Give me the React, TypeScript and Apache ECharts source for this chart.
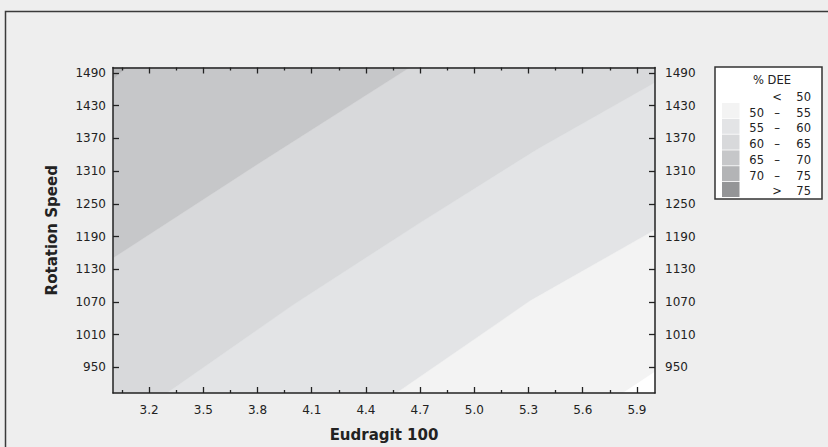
import React, { useEffect, useRef } from "react";
import * as echarts from "echarts";

// Axis ranges and ticks
const xRange = [3.0, 6.0];
const yRange = [903, 1500];
const xTickLabels = [3.2, 3.5, 3.8, 4.1, 4.4, 4.7, 5.0, 5.3, 5.6, 5.9];
const xMinorTicks = [3.05, 3.35, 3.65, 3.95, 4.25, 4.55, 4.85, 5.15, 5.45, 5.75];
const yTickLabels = [950, 1010, 1070, 1130, 1190, 1250, 1310, 1370, 1430, 1490];

// Contour lines (Eudragit 100, Rotation Speed),
// each from its lower-left end to its upper-right end
const contourLevels = [70, 65, 60, 55, 50];
const contour70 = [[3.0, 1478], [3.075, 1500]];
const contour65 = [[3.0, 1150], [3.8, 1322], [4.644, 1500]];
const contour60 = [[3.3, 903], [4.0, 1065], [4.7, 1215], [5.35, 1350], [6.0, 1472]];
const contour55 = [[4.57, 903], [5.31, 1072], [6.0, 1202]];
const contour50 = [[5.823, 903], [6.0, 942]];

// Legend bands (% DEE)
const bandLow = [null, 50, 55, 60, 65, 70, 75];
const bandHigh = [50, 55, 60, 65, 70, 75, null];
const bandColors = ["#ffffff", "#f3f3f3", "#e3e4e6", "#d8d9db", "#c6c7c9", "#b3b4b6", "#949597"];

const FONT = "DejaVu Sans";

export default function App() {
  const ref = useRef<HTMLDivElement>(null);

  useEffect(() => {
    if (!ref.current) return;
    const chart = echarts.init(ref.current, null, { renderer: "svg" });

    const [xMin, xMax] = xRange;
    const [yMin, yMax] = yRange;
    const eps = 1e-6;
    const belowRight = (c: number[][]) => {
      const pts = c.map((p) => p.slice());
      const start = c[0];
      const end = c[c.length - 1];
      if (end[1] >= yMax - eps && end[0] < xMax - eps) pts.push([xMax, yMax]);
      pts.push([xMax, yMin]);
      if (start[0] <= xMin + eps && start[1] > yMin + eps) pts.push([xMin, yMin]);
      return pts;
    };
    const contours = [contour70, contour65, contour60, contour55, contour50];
    const polys: { pts: number[][]; color: string }[] = [
      { pts: [[xMin, yMin], [xMin, yMax], [xMax, yMax], [xMax, yMin]], color: bandColors[5] },
    ];
    contours.forEach((c, i) => {
      const level = contourLevels[i];
      const bandIdx = bandHigh.indexOf(level);
      polys.push({ pts: belowRight(c), color: bandColors[bandIdx] });
    });

    const axisLineStyle = { color: "#222", width: 1.5 };
    const tickStyle = { color: "#222", width: 1.3 };
    const labelStyle = { fontFamily: FONT, fontSize: 12, color: "#222" };

    const baseX = {
      type: "value",
      min: xMin,
      max: xMax,
      z: 5,
      splitLine: { show: false },
    };
    const baseY = {
      type: "value",
      min: yMin,
      max: yMax,
      z: 5,
      splitLine: { show: false },
    };

    // Legend graphics
    const lx = 715;
    const ly = 67;
    const legendEls: any[] = [
      {
        type: "rect",
        shape: { x: lx, y: ly, width: 107, height: 132 },
        style: { fill: "#ffffff", stroke: "#333", lineWidth: 1.5 },
      },
      {
        type: "text",
        x: 772,
        y: 80,
        style: { text: "% DEE", fontFamily: FONT, fontSize: 11.5, fill: "#222", align: "center", verticalAlign: "middle" },
      },
    ];
    bandLow.forEach((lo, i) => {
      const cy = 97 + i * 15.7;
      if (i > 0) {
        legendEls.push({
          type: "rect",
          shape: { x: 722, y: 103 + (i - 1) * 15.8, width: 17.5, height: 15 },
          style: { fill: bandColors[i] },
        });
      }
      const hi = bandHigh[i];
      const mid = lo == null ? "<" : hi == null ? ">" : "\u2013";
      const ts = { fontFamily: FONT, fontSize: 11.5, fill: "#222", verticalAlign: "middle" };
      if (lo != null && hi != null) {
        legendEls.push({ type: "text", x: 764, y: cy, style: { ...ts, text: String(lo), align: "right" } });
      }
      legendEls.push({ type: "text", x: 777, y: cy, style: { ...ts, text: mid, align: "center" } });
      legendEls.push({
        type: "text",
        x: 811,
        y: cy,
        style: { ...ts, text: String(hi != null ? hi : lo), align: "right" },
      });
    });

    chart.setOption({
      animation: false,
      backgroundColor: "#eeeeee",
      grid: { left: 113, right: 173, top: 67.5, bottom: 50.5, containLabel: false },
      xAxis: [
        {
          ...baseX,
          position: "bottom",
          axisLine: { show: true, onZero: false, lineStyle: axisLineStyle },
          axisTick: { show: true, inside: true, length: 6, customValues: xTickLabels, lineStyle: tickStyle },
          axisLabel: {
            show: true,
            customValues: xTickLabels,
            margin: 11,
            formatter: (v: number) => Number(v).toFixed(1),
            ...labelStyle,
          },
          name: "Eudragit 100",
          nameLocation: "middle",
          nameGap: 34,
          nameTextStyle: { fontFamily: FONT, fontSize: 15, fontWeight: "bold", color: "#222" },
        },
        {
          ...baseX,
          position: "bottom",
          axisLine: { show: false },
          axisTick: { show: true, inside: true, length: 3, customValues: xMinorTicks, lineStyle: tickStyle },
          axisLabel: { show: false },
        },
        {
          ...baseX,
          position: "top",
          axisLine: { show: true, onZero: false, lineStyle: axisLineStyle },
          axisTick: { show: true, inside: true, length: 6, customValues: xTickLabels, lineStyle: tickStyle },
          axisLabel: { show: false },
        },
        {
          ...baseX,
          position: "top",
          axisLine: { show: false },
          axisTick: { show: true, inside: true, length: 3, customValues: xMinorTicks, lineStyle: tickStyle },
          axisLabel: { show: false },
        },
      ],
      yAxis: [
        {
          ...baseY,
          position: "left",
          axisLine: { show: true, onZero: false, lineStyle: axisLineStyle },
          axisTick: { show: true, inside: true, length: 6, customValues: yTickLabels, lineStyle: tickStyle },
          axisLabel: {
            show: true,
            customValues: yTickLabels,
            margin: 7,
            formatter: (v: number) => String(Math.round(v)),
            ...labelStyle,
          },
          name: "Rotation Speed",
          nameLocation: "middle",
          nameGap: 54,
          nameTextStyle: { fontFamily: FONT, fontSize: 15, fontWeight: "bold", color: "#222" },
        },
        {
          ...baseY,
          position: "right",
          axisLine: { show: true, onZero: false, lineStyle: axisLineStyle },
          axisTick: { show: true, inside: true, length: 6, customValues: yTickLabels, lineStyle: tickStyle },
          axisLabel: {
            show: true,
            customValues: yTickLabels,
            margin: 10,
            formatter: (v: number) => String(Math.round(v)),
            ...labelStyle,
          },
        },
      ],
      graphic: [
        {
          type: "polyline",
          shape: { points: [[5.5, 447], [5.5, 11.5], [828, 11.5]] },
          style: { fill: "none", stroke: "#3a3a3a", lineWidth: 1.5 },
          silent: true,
        },
        ...legendEls,
      ],
      series: [
        {
          type: "custom",
          xAxisIndex: 0,
          yAxisIndex: 0,
          z: 1,
          clip: true,
          data: polys.map((p) => p.pts[0]),
          renderItem: (params: any, api: any) => {
            const p = polys[params.dataIndex];
            return {
              type: "polygon",
              shape: { points: p.pts.map((pt) => api.coord(pt)) },
              style: { fill: p.color, stroke: p.color, lineWidth: 0.5 },
            };
          },
        },
      ],
    });

    return () => chart.dispose();
  }, []);

  return (
    <div
      ref={ref}
      style={{ position: "fixed", left: 0, top: 0, width: 828, height: 447, background: "#eeeeee" }}
    />
  );
}
